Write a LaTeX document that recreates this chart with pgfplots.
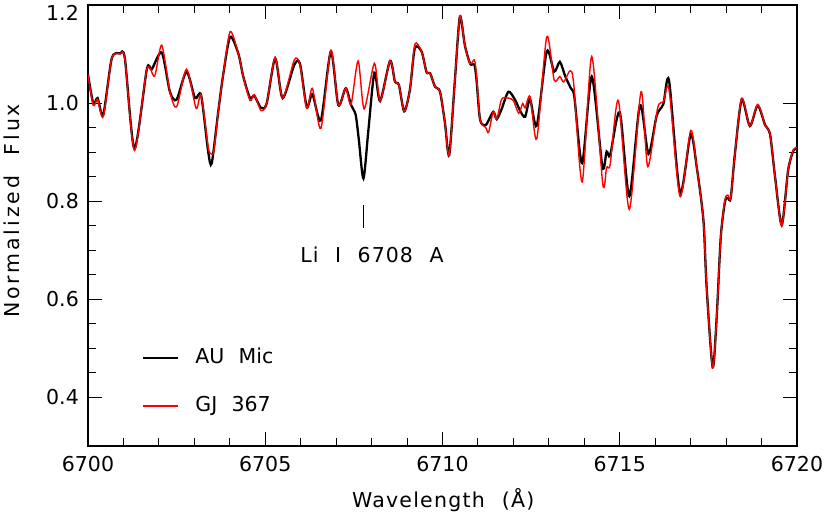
\documentclass[border=0pt]{standalone}
\usepackage{fontspec}
\setmainfont{DejaVu Sans}[WordSpace=2.2]
\usepackage{pgfplots}
\pgfplotsset{compat=1.18}
\usetikzlibrary{calc}
\newcommand{\fs}{\fontsize{20.5}{24}\selectfont}

\pgfplotstableread{
lam flux
6700.00 1.058
6700.15 0.999
6700.27 1.010
6700.43 0.976
6700.67 1.091
6700.90 1.101
6701.04 1.091
6701.31 0.907
6701.66 1.069
6701.80 1.069
6702.08 1.103
6702.31 1.023
6702.50 1.007
6702.78 1.064
6703.02 1.010
6703.19 1.016
6703.39 0.901
6703.49 0.877
6703.68 0.986
6703.82 1.061
6704.01 1.135
6704.24 1.101
6704.38 1.054
6704.57 1.010
6704.69 1.015
6704.88 0.990
6705.04 0.999
6705.28 1.091
6705.49 1.010
6705.82 1.078
6705.98 1.080
6706.17 0.992
6706.33 1.018
6706.57 0.965
6706.85 1.105
6707.06 0.996
6707.27 1.030
6707.42 0.996
6707.55 0.976
6707.64 0.925
6707.77 0.846
6707.91 0.945
6708.08 1.062
6708.24 1.004
6708.52 1.086
6708.66 1.043
6708.77 1.037
6708.92 0.983
6709.08 1.027
6709.22 1.112
6709.41 1.105
6709.55 1.063
6709.65 1.061
6709.79 1.033
6709.93 1.023
6710.07 0.959
6710.19 0.894
6710.35 1.047
6710.49 1.176
6710.63 1.118
6710.78 1.080
6710.90 1.078
6710.96 1.047
6711.06 0.966
6711.22 0.955
6711.43 0.982
6711.53 0.967
6711.67 0.988
6711.86 1.023
6712.05 1.006
6712.19 0.984
6712.33 0.972
6712.47 1.008
6712.66 0.954
6712.94 1.105
6713.15 1.064
6713.31 1.084
6713.46 1.055
6713.62 1.030
6713.72 1.012
6713.94 0.877
6714.21 1.054
6714.51 0.870
6714.63 0.901
6714.73 0.894
6715.00 0.981
6715.27 0.810
6715.57 0.996
6715.81 0.896
6716.04 0.974
6716.23 0.998
6716.39 1.046
6716.70 0.817
6717.00 0.936
6717.17 0.870
6717.36 0.761
6717.45 0.625
6717.62 0.461
6717.73 0.557
6717.85 0.727
6717.97 0.799
6718.05 0.806
6718.13 0.806
6718.25 0.897
6718.44 1.007
6718.67 0.953
6718.89 0.995
6719.10 0.955
6719.24 0.936
6719.38 0.850
6719.57 0.751
6719.75 0.863
6719.90 0.903
6720.00 0.907
}\aumic

\pgfplotstableread{
lam flux
6700.00 1.058
6700.15 0.995
6700.27 1.008
6700.43 0.972
6700.67 1.091
6700.90 1.100
6701.04 1.090
6701.31 0.903
6701.66 1.069
6701.88 1.055
6702.08 1.118
6702.31 1.023
6702.50 0.992
6702.78 1.069
6703.05 0.989
6703.19 1.016
6703.39 0.910
6703.46 0.897
6703.55 0.902
6703.68 0.986
6703.82 1.061
6704.01 1.146
6704.24 1.101
6704.38 1.054
6704.57 1.005
6704.69 1.017
6704.88 0.985
6705.04 0.999
6705.28 1.093
6705.49 1.010
6705.82 1.088
6705.98 1.078
6706.17 0.989
6706.33 1.030
6706.57 0.948
6706.85 1.108
6707.06 0.996
6707.27 1.030
6707.42 0.997
6707.62 1.086
6707.79 0.988
6708.08 1.081
6708.24 1.004
6708.52 1.086
6708.66 1.043
6708.77 1.037
6708.92 0.983
6709.08 1.027
6709.22 1.120
6709.41 1.105
6709.55 1.063
6709.65 1.061
6709.79 1.033
6709.93 1.023
6710.07 0.959
6710.19 0.894
6710.35 1.047
6710.49 1.178
6710.63 1.118
6710.78 1.080
6710.90 1.088
6710.96 1.055
6711.06 0.966
6711.22 0.950
6711.30 0.940
6711.43 0.982
6711.53 0.967
6711.67 1.008
6711.86 1.010
6712.00 1.005
6712.15 0.979
6712.26 0.999
6712.33 0.990
6712.47 1.013
6712.66 0.927
6712.94 1.135
6713.15 1.047
6713.31 1.054
6713.42 1.043
6713.60 1.066
6713.70 1.040
6713.94 0.839
6714.21 1.095
6714.52 0.835
6714.63 0.869
6714.73 0.875
6714.96 1.005
6715.27 0.783
6715.60 1.023
6715.79 0.870
6716.07 0.990
6716.23 1.002
6716.39 1.028
6716.70 0.809
6717.00 0.944
6717.17 0.870
6717.36 0.761
6717.45 0.625
6717.62 0.459
6717.73 0.557
6717.85 0.727
6717.97 0.803
6718.05 0.812
6718.13 0.806
6718.25 0.897
6718.44 1.010
6718.67 0.953
6718.89 0.997
6719.10 0.955
6719.24 0.936
6719.38 0.850
6719.57 0.749
6719.75 0.863
6719.90 0.905
6720.00 0.909
}\gjthree

\begin{document}
\begin{tikzpicture}
\begin{axis}[
    name=ax,
    scale only axis, width=709pt, height=441pt,
    xmin=6700, xmax=6720, ymin=0.3, ymax=1.2,
    xtick={6700,6705,6710,6715,6720},
    xticklabels={6700,6705,6710,6715,6720},
    ytick={0.4,0.6,0.8,1.0},
    yticklabels={0.4,0.6,0.8,1.0},
    extra y ticks={1.2}, extra y tick labels={1.2},
    extra y tick style={yticklabel style={yshift=-8pt}},
    minor x tick num=4, minor y tick num=3,
    tick align=inside, major tick length=14pt, minor tick length=8pt,
    every tick/.style={black, line width=1pt},
    axis line style={line width=1.3pt},
    tick label style={font=\fs, inner sep=0pt},
    xticklabel style={yshift=-10pt},
    yticklabel style={xshift=-9pt},
    xlabel={\addfontfeature{LetterSpace=6}Wavelength (Å)},
    ylabel={\addfontfeature{LetterSpace=14}Normalized Flux},
    label style={font=\fs},
    xlabel style={at={(axis description cs:0.501,-0.1224)}, anchor=center},
    ylabel style={at={(axis description cs:-0.1072,0.533)}, anchor=center},
    legend style={draw=none, fill=none, font=\fs, inner sep=0pt,
        at={(axis cs:6701.52,0.4305)}, anchor=west, row sep=29pt,
        column sep=16pt,
        nodes={inner sep=0pt, text height=15pt, text depth=4pt}},
    legend cell align=left,
    legend image code/.code={\draw[#1] (0pt,0pt) -- (35pt,0pt);},
]
\addplot[black, line width=2.3pt, smooth, tension=0.45] table[x=lam, y=flux] {\aumic};
\addlegendentry{AU Mic}
\addplot[red, line width=1.4pt, smooth, tension=0.45] table[x=lam, y=flux] {\gjthree};
\addlegendentry{GJ 367}
\draw[line width=0.8pt] (axis cs:6707.76,0.792) -- (axis cs:6707.76,0.745);
\node[font=\fs] at (axis cs:6708.01,0.690) {\addfontfeature{LetterSpace=5}Li I 6708 A};
\end{axis}
\pgfresetboundingbox
\path[use as bounding box] ($(ax.south west)+(-88pt,-73pt)$) rectangle ($(ax.south west)+(742pt,446pt)$);
\end{tikzpicture}
\end{document}
